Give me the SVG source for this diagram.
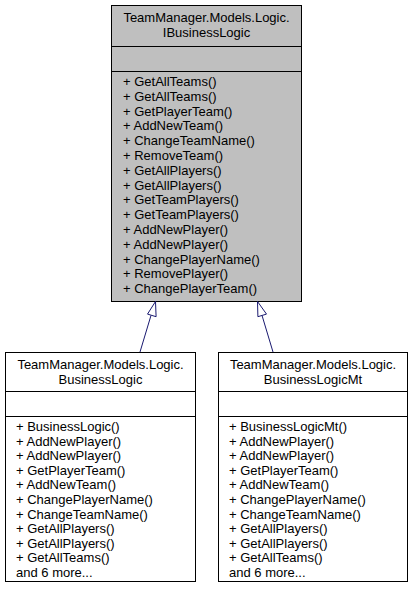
<svg xmlns="http://www.w3.org/2000/svg" width="413" height="595" viewBox="0 0 413 595">
<style>
  .box { stroke: #000000; stroke-width: 1; }
  .iface { fill: #bfbfbf; }
  .cls { fill: #ffffff; }
  text { font-family: "Liberation Sans", Arial, sans-serif; font-size: 13px; fill: #000000; }
  .c { text-anchor: middle; }
  .edge { stroke: #191970; stroke-width: 1; fill: none; }
  .head { stroke: #191970; stroke-width: 1; fill: #ffffff; }
</style>
<rect width="413" height="595" fill="#ffffff"/>
<g id="IBusinessLogic">
  <rect class="box iface" x="111.5" y="5.5" width="190" height="296"/>
  <line class="box" x1="111.5" y1="46.5" x2="301.5" y2="46.5"/>
  <line class="box" x1="111.5" y1="71.5" x2="301.5" y2="71.5"/>
  <text class="c" x="206.5" y="22">TeamManager.Models.Logic.</text>
  <text class="c" x="206.5" y="37">IBusinessLogic</text>
  <text x="123" y="86">+ GetAllTeams()</text>
  <text x="123" y="100.8">+ GetAllTeams()</text>
  <text x="123" y="115.6">+ GetPlayerTeam()</text>
  <text x="123" y="130.4">+ AddNewTeam()</text>
  <text x="123" y="145.2">+ ChangeTeamName()</text>
  <text x="123" y="160">+ RemoveTeam()</text>
  <text x="123" y="174.8">+ GetAllPlayers()</text>
  <text x="123" y="189.6">+ GetAllPlayers()</text>
  <text x="123" y="204.4">+ GetTeamPlayers()</text>
  <text x="123" y="219.2">+ GetTeamPlayers()</text>
  <text x="123" y="234">+ AddNewPlayer()</text>
  <text x="123" y="248.8">+ AddNewPlayer()</text>
  <text x="123" y="263.6">+ ChangePlayerName()</text>
  <text x="123" y="278.4">+ RemovePlayer()</text>
  <text x="123" y="293.2">+ ChangePlayerTeam()</text>
</g>
<g id="BusinessLogic">
  <rect class="box cls" x="5.5" y="352.5" width="190" height="229"/>
  <line class="box" x1="5.5" y1="391.5" x2="195.5" y2="391.5"/>
  <line class="box" x1="5.5" y1="416.5" x2="195.5" y2="416.5"/>
  <text class="c" x="100.5" y="369">TeamManager.Models.Logic.</text>
  <text class="c" x="100.5" y="384">BusinessLogic</text>
  <text x="16" y="431">+ BusinessLogic()</text>
  <text x="16" y="445.6">+ AddNewPlayer()</text>
  <text x="16" y="460.2">+ AddNewPlayer()</text>
  <text x="16" y="474.8">+ GetPlayerTeam()</text>
  <text x="16" y="489.4">+ AddNewTeam()</text>
  <text x="16" y="504">+ ChangePlayerName()</text>
  <text x="16" y="518.6">+ ChangeTeamName()</text>
  <text x="16" y="533.2">+ GetAllPlayers()</text>
  <text x="16" y="547.8">+ GetAllPlayers()</text>
  <text x="16" y="562.4">+ GetAllTeams()</text>
  <text x="16" y="577">and 6 more...</text>
</g>
<g id="BusinessLogicMt">
  <rect class="box cls" x="218.5" y="352.5" width="189" height="229"/>
  <line class="box" x1="218.5" y1="391.5" x2="407.5" y2="391.5"/>
  <line class="box" x1="218.5" y1="416.5" x2="407.5" y2="416.5"/>
  <text class="c" x="313" y="369">TeamManager.Models.Logic.</text>
  <text class="c" x="313" y="384">BusinessLogicMt</text>
  <text x="229" y="431">+ BusinessLogicMt()</text>
  <text x="229" y="445.6">+ AddNewPlayer()</text>
  <text x="229" y="460.2">+ AddNewPlayer()</text>
  <text x="229" y="474.8">+ GetPlayerTeam()</text>
  <text x="229" y="489.4">+ AddNewTeam()</text>
  <text x="229" y="504">+ ChangePlayerName()</text>
  <text x="229" y="518.6">+ ChangeTeamName()</text>
  <text x="229" y="533.2">+ GetAllPlayers()</text>
  <text x="229" y="547.8">+ GetAllPlayers()</text>
  <text x="229" y="562.4">+ GetAllTeams()</text>
  <text x="229" y="577">and 6 more...</text>
</g>
<g id="edges">
  <line class="edge" x1="140" y1="352" x2="151" y2="315.4"/>
  <polygon class="head" points="155.5,301.5 156.1,316.7 147.5,314.1"/>
  <line class="edge" x1="273" y1="352" x2="262" y2="315.4"/>
  <polygon class="head" points="257.5,301.5 266.5,314.1 257.9,316.7"/>
</g>
</svg>
